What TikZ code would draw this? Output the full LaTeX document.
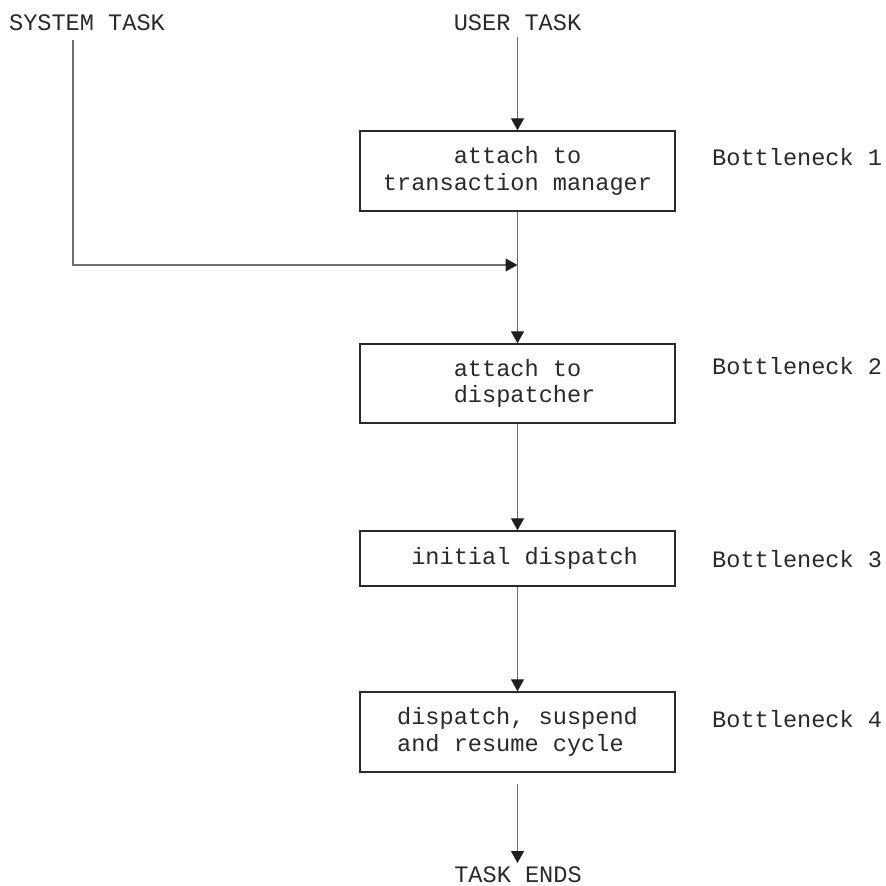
\documentclass[tikz,border=0pt]{standalone}
\usepackage{fontspec}
\setmonofont{Liberation Mono}
\usetikzlibrary{arrows.meta}
\definecolor{ink}{HTML}{2A2A2A}
\definecolor{wire}{HTML}{6E6E6E}
\begin{document}
\begin{tikzpicture}[x=1pt,y=-1pt,
  every node/.style={font=\ttfamily\fontsize{23.6}{26.5}\selectfont, text=ink, inner sep=0pt},
  boxnode/.style={draw=ink, line width=1.4pt, minimum width=315pt, rectangle},
  conn/.style={draw=wire, line width=1.2pt},
  arr/.style={conn, -{Triangle[length=12pt,width=13pt,color=black!88]}},
  bneck/.style={anchor=west}]
\useasboundingbox (0,0) rectangle (886,886);
\fill[white] (0,0) rectangle (886,886);

\node (sys) at (87,23) {SYSTEM TASK};
\node (user) at (517.5,23) {USER TASK};

\node[boxnode, minimum height=80pt, align=center] (b1) at (517.5,171) {attach to\\transaction manager};
\node[boxnode, minimum height=79pt, align=left] (b2) at (517.5,383.5) {\hspace*{14.2pt}attach to\\\hspace*{14.2pt}dispatcher};
\node[boxnode, minimum height=55pt] (b3) at (517.5,558.5) {\hspace*{14.2pt}initial dispatch};
\node[boxnode, minimum height=80pt, align=left] (b4) at (517.5,732) {dispatch, suspend\\and resume cycle};

\node[bneck] (n1) at (712,157) {Bottleneck 1};
\node[bneck] (n2) at (712,366) {Bottleneck 2};
\node[bneck] (n3) at (712,559) {Bottleneck 3};
\node[bneck] (n4) at (712,719) {Bottleneck 4};

\node (ends) at (518,875) {TASK ENDS};

\coordinate (utop) at (517.5,37);
\coordinate (stop) at (73,40);
\coordinate (join) at (517.5,265);
\coordinate (b4out) at (517.5,784);
\coordinate (endtip) at (517.5,863);

\draw[arr] (utop) -- (b1.north);
\draw[arr] (stop) |- (join);
\draw[arr] (b1.south) -- (b2.north);
\draw[arr] (b2.south) -- (b3.north);
\draw[arr] (b3.south) -- (b4.north);
\draw[arr] (b4out) -- (endtip);
\end{tikzpicture}
\end{document}
